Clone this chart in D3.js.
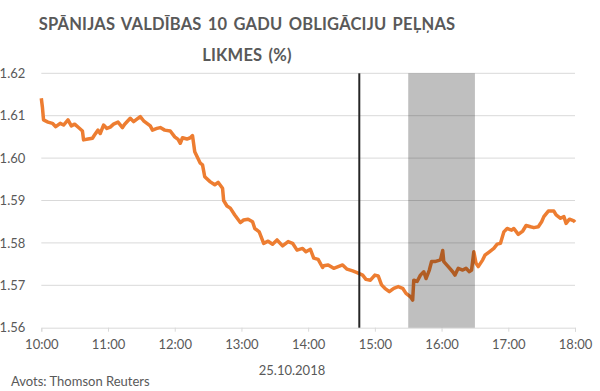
<!DOCTYPE html>
<html>
<head>
<meta charset="utf-8">
<script src="https://cdn.jsdelivr.net/npm/d3@7"></script>
<style>
  html, body { margin: 0; padding: 0; background: #fff; }
  svg { display: block; }
</style>
</head>
<body>
<svg id="chart" width="600" height="391"></svg>
<script>
// ---- data ----
const titleLines = ["SPĀNIJAS VALDĪBAS 10 GADU OBLIGĀCIJU PEĻŅAS", "LIKMES (%)"];
const sourceText = "Avots: Thomson Reuters";
const dateText = "25.10.2018";
const xTickLabels = ["10:00","11:00","12:00","13:00","14:00","15:00","16:00","17:00","18:00"];
const yTickValues = [1.56, 1.57, 1.58, 1.59, 1.60, 1.61, 1.62];
const markerTime = "14:46";
const bandStart = "15:30";
const bandEnd = "16:30";
const times = [
  "10:00","10:01","10:02","10:06","10:10","10:13","10:17","10:20","10:24","10:27",
  "10:30","10:34","10:37","10:38","10:42","10:46","10:48","10:51","10:53","10:56",
  "10:59","11:02","11:05","11:09","11:13","11:15","11:20","11:23","11:26","11:29",
  "11:32","11:35","11:38","11:40","11:44","11:47","11:51","11:56","12:00","12:03",
  "12:05","12:07","12:11","12:14","12:16","12:18","12:23","12:25","12:27","12:32",
  "12:36","12:39","12:43","12:44","12:47","12:50","12:54","12:59","13:02","13:06",
  "13:10","13:12","13:16","13:20","13:24","13:28","13:32","13:37","13:42","13:46",
  "13:50","13:55","13:58","14:02","14:05","14:09","14:13","14:14","14:18","14:23",
  "14:27","14:31","14:35","14:40","14:44","14:49","14:52","14:56","15:00","15:03",
  "15:06","15:09","15:13","15:17","15:21","15:25","15:28","15:32","15:34","15:35",
  "15:38","15:41","15:44","15:46","15:49","15:51","15:54","15:59","16:01","16:02",
  "16:06","16:10","16:12","16:15","16:19","16:22","16:25","16:27","16:29","16:31",
  "16:33","16:37","16:39","16:43","16:47","16:50","16:53","16:56","16:59","17:03",
  "17:05","17:09","17:13","17:16","17:20","17:23","17:27","17:30","17:32","17:36",
  "17:41","17:43","17:47","17:50","17:52","17:55","17:59","18:00"
];
const yields = [
  1.6141,1.6120,1.6090,1.6085,1.6082,1.6074,1.6082,1.6078,1.6090,1.6076,
  1.6080,1.6071,1.6064,1.6043,1.6045,1.6047,1.6055,1.6066,1.6058,1.6078,
  1.6070,1.6073,1.6080,1.6085,1.6072,1.6080,1.6094,1.6086,1.6092,1.6098,
  1.6088,1.6082,1.6076,1.6066,1.6070,1.6072,1.6066,1.6064,1.6050,1.6044,
  1.6035,1.6048,1.6045,1.6048,1.6053,1.6015,1.5988,1.5984,1.5956,1.5944,
  1.5937,1.5943,1.5929,1.5900,1.5887,1.5882,1.5866,1.5848,1.5854,1.5856,
  1.5850,1.5834,1.5826,1.5799,1.5804,1.5797,1.5807,1.5793,1.5803,1.5799,
  1.5783,1.5787,1.5779,1.5785,1.5764,1.5761,1.5742,1.5746,1.5748,1.5740,
  1.5744,1.5748,1.5738,1.5734,1.5730,1.5724,1.5714,1.5712,1.5724,1.5722,
  1.5701,1.5693,1.5685,1.5693,1.5697,1.5693,1.5681,1.5673,1.5665,1.5712,
  1.5709,1.5724,1.5732,1.5716,1.5736,1.5756,1.5756,1.5760,1.5782,1.5756,
  1.5744,1.5732,1.5724,1.5740,1.5736,1.5740,1.5732,1.5736,1.5779,1.5752,
  1.5744,1.5760,1.5771,1.5779,1.5787,1.5797,1.5799,1.5826,1.5834,1.5830,
  1.5834,1.5820,1.5828,1.5841,1.5838,1.5836,1.5838,1.5850,1.5862,1.5875,
  1.5875,1.5866,1.5858,1.5862,1.5846,1.5856,1.5852,1.5849
];

// ---- chart ----
(function () {
const parse = d3.timeParse("%H:%M");
const data = times.map((t, i) => ({ t: parse(t), v: yields[i] }));

const svg = d3.select("#chart");
const mLeft = 41.3, mRight = 575, mTop = 73.3, mBottom = 327.7;
const font = "Lato, 'Open Sans', sans-serif";
const textColor = "#595959";
const gridColor = "#d9d9d9";

const x = d3.scaleTime().domain([parse(xTickLabels[0]), parse(xTickLabels[xTickLabels.length - 1])]).range([mLeft, mRight]);
const y = d3.scaleLinear().domain([1.56, 1.62]).range([mBottom, mTop]);

// title
titleLines.forEach((line, i) => {
  svg.append("text")
    .attr("x", 247).attr("y", i === 0 ? 30 : 61)
    .attr("text-anchor", "middle")
    .attr("font-family", font).attr("font-weight", "bold")
    .attr("font-size", 16.5).attr("fill", textColor)
    .attr("letter-spacing", 0.2)
    .attr("word-spacing", 2)
    .text(line);
});

// gridlines
svg.append("g")
  .selectAll("line").data(yTickValues.filter(v => v > 1.56)).join("line")
  .attr("x1", mLeft).attr("x2", mRight)
  .attr("y1", d => y(d)).attr("y2", d => y(d))
  .attr("stroke", gridColor).attr("stroke-width", 1);

// x axis
const xAxis = d3.axisBottom(x)
  .tickValues(xTickLabels.map(parse))
  .tickFormat(d3.timeFormat("%H:%M"))
  .tickSize(4).tickPadding(8);
const gx = svg.append("g").attr("transform", `translate(0,${mBottom})`).call(xAxis);
gx.select(".domain").attr("stroke", gridColor);
gx.selectAll(".tick line").attr("stroke", gridColor);
gx.selectAll(".tick text").attr("font-family", font).attr("font-size", 13).attr("fill", textColor);

// y axis
const yAxis = d3.axisLeft(y).tickValues(yTickValues).tickFormat(d3.format(".2f")).tickSize(0).tickPadding(16);
const gy = svg.append("g").attr("transform", `translate(${mLeft},0)`).call(yAxis);
gy.select(".domain").remove();
gy.selectAll(".tick text").attr("font-family", font).attr("font-size", 13).attr("fill", textColor);

// data line
svg.append("path").datum(data)
  .attr("fill", "none")
  .attr("stroke", "#ED7D31")
  .attr("stroke-width", 3.5)
  .attr("stroke-linejoin", "round")
  .attr("d", d3.line().x(d => x(d.t)).y(d => y(d.v)));

// shaded band
svg.append("rect")
  .attr("x", x(parse(bandStart))).attr("y", y(1.62))
  .attr("width", x(parse(bandEnd)) - x(parse(bandStart)))
  .attr("height", y(1.56) - y(1.62))
  .attr("fill", "#000").attr("fill-opacity", 0.25);

// marker line
svg.append("line")
  .attr("x1", x(parse(markerTime))).attr("x2", x(parse(markerTime)))
  .attr("y1", y(1.62)).attr("y2", y(1.56))
  .attr("stroke", "#262626").attr("stroke-width", 2);

// date label
svg.append("text")
  .attr("x", 292).attr("y", 375)
  .attr("text-anchor", "middle")
  .attr("font-family", font).attr("font-size", 13).attr("fill", textColor)
  .text(dateText);

// source
svg.append("text")
  .attr("x", 11).attr("y", 386)
  .attr("font-family", font).attr("font-size", 13).attr("fill", textColor)
  .text(sourceText);
})();
</script>
</body>
</html>
